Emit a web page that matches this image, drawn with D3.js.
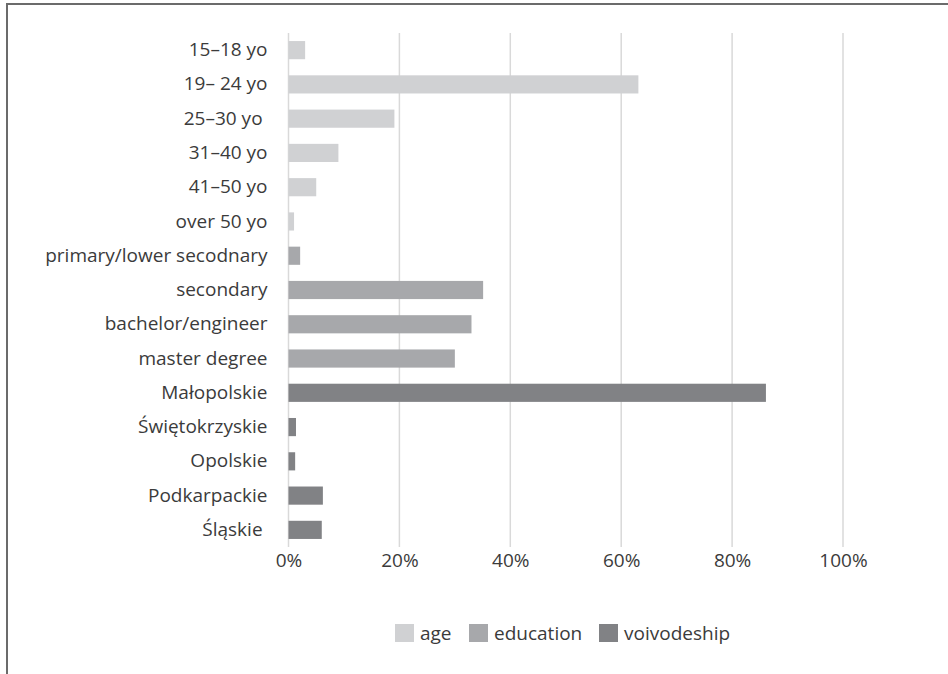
<!DOCTYPE html>
<html>
<head>
<meta charset="utf-8">
<script src="https://cdn.jsdelivr.net/npm/d3@7"></script>
<style>
  html, body { margin: 0; padding: 0; background: #fff; }
  svg { display: block; }
  text { font-family: "Open Sans", Lato, sans-serif; fill: #3b3b3b; }
</style>
</head>
<body>
<svg id="chart" width="948" height="674"></svg>
<script>
// Respondent profile: share of respondents per category
const categories = [
  "15–18 yo", "19– 24 yo", "25–30 yo ", "31–40 yo", "41–50 yo", "over 50 yo",
  "primary/lower secodnary", "secondary", "bachelor/engineer", "master degree",
  "Małopolskie", "Świętokrzyskie", "Opolskie", "Podkarpackie", "Śląskie "
];
const groups = [
  "age", "age", "age", "age", "age", "age",
  "education", "education", "education", "education",
  "voivodeship", "voivodeship", "voivodeship", "voivodeship", "voivodeship"
];
const values = [
  0.03, 0.631, 0.191, 0.09, 0.05, 0.01,
  0.021, 0.351, 0.33, 0.30,
  0.861, 0.0135, 0.012, 0.062, 0.06
];
const seriesNames = ["age", "education", "voivodeship"];
const tickValues = [0, 0.2, 0.4, 0.6, 0.8, 1.0];

const svg = d3.select("#chart");
const W = 948, H = 674;
const fontSize = 19;

// outer frame (right and bottom edges run past the page)
svg.append("rect")
  .attr("x", 7).attr("y", 4)
  .attr("width", W + 20).attr("height", H + 20)
  .attr("fill", "none").attr("stroke", "#6b6b6b").attr("stroke-width", 2);

const x = d3.scaleLinear().domain([0, 1]).range([288.5, 843]);
const y = d3.scaleBand().domain(categories).range([33, 547]).paddingInner(0.47).paddingOuter(0.235);
const color = d3.scaleOrdinal().domain(seriesNames).range(["#d0d1d3", "#a7a8ab", "#818285"]);

// vertical gridlines
svg.append("g").selectAll("line")
  .data(tickValues)
  .join("line")
  .attr("x1", d => x(d)).attr("x2", d => x(d))
  .attr("y1", 33).attr("y2", 547)
  .attr("stroke", "#d9d9d9").attr("stroke-width", 1.5);

// bars
svg.append("g").selectAll("rect")
  .data(categories)
  .join("rect")
  .attr("x", x(0))
  .attr("y", d => y(d))
  .attr("height", y.bandwidth())
  .attr("width", (d, i) => x(values[i]) - x(0))
  .attr("fill", (d, i) => color(groups[i]));

// category labels
const yAxis = d3.axisLeft(y).tickSize(0).tickPadding(0);
const gy = svg.append("g").attr("transform", `translate(${x(0) - 21},0)`).call(yAxis);
gy.select(".domain").remove();
gy.selectAll("text")
  .attr("font-size", fontSize)
  .attr("font-family", "'Open Sans', Lato, sans-serif")
  .attr("fill", "#3b3b3b")
  .style("white-space", "pre");

// value axis labels
const xAxis = d3.axisBottom(x).tickValues(tickValues).tickSize(0).tickPadding(0)
  .tickFormat(d3.format(".0%"));
const gx = svg.append("g").attr("transform", "translate(0,553)").call(xAxis);
gx.select(".domain").remove();
gx.selectAll("text")
  .attr("font-size", fontSize)
  .attr("font-family", "'Open Sans', Lato, sans-serif")
  .attr("fill", "#3b3b3b");

// legend
const legendX = [395, 469, 599];
const leg = svg.append("g").selectAll("g")
  .data(seriesNames)
  .join("g")
  .attr("transform", (d, i) => `translate(${legendX[i]},624)`);
leg.append("rect").attr("width", 19).attr("height", 18).attr("fill", d => color(d));
leg.append("text")
  .attr("x", 25).attr("y", 15.5)
  .attr("font-size", fontSize)
  .text(d => d);
</script>
</body>
</html>
